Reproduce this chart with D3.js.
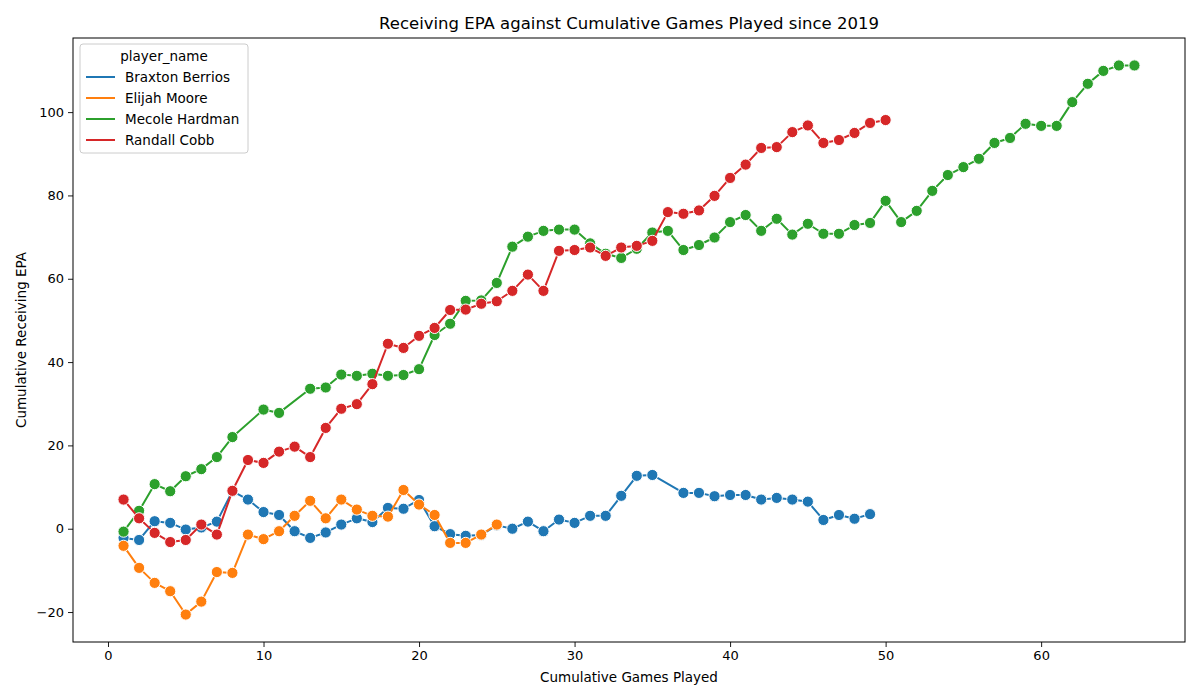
<!DOCTYPE html>
<html>
<head>
<meta charset="utf-8">
<script src="https://cdn.jsdelivr.net/npm/d3@7"></script>
<style>
  body { margin: 0; background: #fff; }
  text { font-family: "DejaVu Sans", sans-serif; fill: #000; }
</style>
</head>
<body>
<div id="chart"></div>
<script>
let width = 1200;
let height = 700;
let margin = ({top: 38, right: 15, bottom: 58, left: 73});

// data
let players = ["Braxton Berrios", "Elijah Moore", "Mecole Hardman", "Randall Cobb"];
let colors = ["#1f77b4", "#ff7f0e", "#2ca02c", "#d62728"];

let berriosGames = [1,2,3,4,5,6,7,8,9,10,11,12,13,14,15,16,17,18,19,20,21,22,23,24,25,26,27,28,29,30,31,32,33,34,35,37,38,39,40,41,42,43,44,45,46,47,48,49];
let berriosEpa = [-2.2,-2.7,1.8,1.4,-0.2,0.3,1.7,9.0,7.0,4.0,3.3,-0.6,-2.2,-0.9,1.0,2.5,1.6,5.0,4.8,6.9,0.6,-1.3,-1.7,-1.5,0.8,0.0,1.7,-0.6,2.2,1.4,3.1,3.1,7.9,12.7,12.9,8.6,8.6,7.8,8.1,8.1,7.0,7.4,7.0,6.5,2.1,3.3,2.4,3.5];

let mooreGames = [1,2,3,4,5,6,7,8,9,10,11,12,13,14,15,16,17,18,19,20,21,22,23,24,25];
let mooreEpa = [-4.1,-9.4,-13.0,-15.0,-20.6,-17.5,-10.4,-10.6,-1.4,-2.5,-0.6,3.1,6.7,2.5,7.0,4.6,3.1,2.9,9.3,5.8,3.3,-3.4,-3.4,-1.4,1.0];

let hardmanGames = [1,2,3,4,5,6,7,8,10,11,13,14,15,16,17,18,19,20,21,22,23,24,25,26,27,28,29,30,31,32,33,34,35,36,37,38,39,40,41,42,43,44,45,46,47,48,49,50,51,52,53,54,55,56,57,58,59,60,61,62,63,64,65,66];
let hardmanEpa = [-0.7,4.3,10.7,9.0,12.6,14.3,17.2,22.0,28.6,27.8,33.6,33.9,37.0,36.7,37.2,36.7,36.9,38.3,46.5,49.2,54.7,54.8,59.0,67.7,70.1,71.5,71.8,71.8,68.5,66.0,65.0,67.2,71.1,71.5,66.9,68.1,69.9,73.6,75.3,71.5,74.4,70.6,73.2,70.8,70.8,72.9,73.4,78.7,73.6,76.3,81.1,84.9,86.8,88.8,92.6,93.8,97.2,96.7,96.7,102.4,106.8,109.9,111.2,111.2];

let cobbGames = [1,2,3,4,5,6,7,8,9,10,11,12,13,14,15,16,17,18,19,20,21,22,23,24,25,26,27,28,29,30,31,32,33,34,35,36,37,38,39,40,41,42,43,44,45,46,47,48,49,50];
let cobbEpa = [7.0,2.5,-1.0,-3.2,-2.7,1.0,-1.4,9.1,16.5,15.8,18.5,19.7,17.2,24.2,28.8,29.9,34.7,44.4,43.4,46.3,48.2,52.5,52.6,54.0,54.6,57.1,61.0,57.1,66.7,66.9,67.5,65.5,67.5,67.9,69.1,76.0,75.6,76.4,79.9,84.2,87.4,91.4,91.6,95.2,96.8,92.6,93.3,95.0,97.4,98.1];

let xTicks = [0, 10, 20, 30, 40, 50, 60];
let yTicks = [-20, 0, 20, 40, 60, 80, 100];

let series = [
    {name: players[0], color: colors[0], values: berriosGames.map((g, i) => ({g, v: berriosEpa[i]}))},
    {name: players[1], color: colors[1], values: mooreGames.map((g, i) => ({g, v: mooreEpa[i]}))},
    {name: players[2], color: colors[2], values: hardmanGames.map((g, i) => ({g, v: hardmanEpa[i]}))},
    {name: players[3], color: colors[3], values: cobbGames.map((g, i) => ({g, v: cobbEpa[i]}))}
];

let all = series.flatMap(s => s.values);
let [gMin, gMax] = d3.extent(all, d => d.g);
let [vMin, vMax] = d3.extent(all, d => d.v);
let gPad = (gMax - gMin) * 0.05, vPad = (vMax - vMin) * 0.05;

let x = d3.scaleLinear()
    .domain([gMin - gPad, gMax + gPad])
    .range([margin.left, width - margin.right]);
let y = d3.scaleLinear()
    .domain([vMin - vPad, vMax + vPad])
    .range([height - margin.bottom, margin.top]);

let svg = d3.select("#chart")
    .append("svg")
    .attr("width", width)
    .attr("height", height);

// axes
let xAxis = g => g
    .attr("transform", `translate(0,${height - margin.bottom})`)
    .call(d3.axisBottom(x).tickValues(xTicks).tickSize(5).tickPadding(4).tickSizeOuter(0))
    .call(g => g.select(".domain").remove());
let yAxis = g => g
    .attr("transform", `translate(${margin.left},0)`)
    .call(d3.axisLeft(y).tickValues(yTicks).tickSize(5).tickPadding(4).tickFormat(d => d < 0 ? "\u2212" + Math.abs(d) : d))
    .call(g => g.select(".domain").remove());

svg.append("g").call(xAxis)
    .call(g => g.selectAll("text").attr("font-size", 13).attr("font-family", "DejaVu Sans"));
svg.append("g").call(yAxis)
    .call(g => g.selectAll("text").attr("font-size", 13).attr("font-family", "DejaVu Sans"));
svg.selectAll(".tick line").attr("stroke", "#000").attr("stroke-width", 0.9);

let line = d3.line()
    .x(d => x(d.g))
    .y(d => y(d.v));

let plot = svg.append("g");
series.forEach(s => {
    let grp = plot.append("g");
    grp.append("path")
        .datum(s.values)
        .attr("fill", "none")
        .attr("stroke", s.color)
        .attr("stroke-width", 2)
        .attr("stroke-linejoin", "round")
        .attr("d", line);
    grp.selectAll("circle")
        .data(s.values)
        .join("circle")
        .attr("cx", d => x(d.g))
        .attr("cy", d => y(d.v))
        .attr("r", 5.6)
        .attr("fill", s.color)
        .attr("stroke", "#fff")
        .attr("stroke-width", 1);
});

// frame
svg.append("rect")
    .attr("x", margin.left)
    .attr("y", margin.top)
    .attr("width", width - margin.left - margin.right)
    .attr("height", height - margin.top - margin.bottom)
    .attr("fill", "none")
    .attr("stroke", "#000")
    .attr("stroke-width", 1);

// titles
svg.append("text")
    .attr("x", (margin.left + width - margin.right) / 2)
    .attr("y", 29)
    .attr("text-anchor", "middle")
    .attr("font-size", 16.5)
    .text("Receiving EPA against Cumulative Games Played since 2019");
svg.append("text")
    .attr("x", (margin.left + width - margin.right) / 2)
    .attr("y", 682)
    .attr("text-anchor", "middle")
    .attr("font-size", 13.5)
    .text("Cumulative Games Played");
svg.append("text")
    .attr("transform", `translate(26,${(margin.top + height - margin.bottom) / 2}) rotate(-90)`)
    .attr("text-anchor", "middle")
    .attr("font-size", 13.5)
    .text("Cumulative Receiving EPA");

// legend
let legend = svg.append("g").attr("transform", "translate(80,44)");
legend.append("rect")
    .attr("width", 168)
    .attr("height", 109)
    .attr("rx", 3)
    .attr("fill", "#fff")
    .attr("fill-opacity", 0.8)
    .attr("stroke", "#ccc");
legend.append("text")
    .attr("x", 84)
    .attr("y", 17)
    .attr("text-anchor", "middle")
    .attr("font-size", 13.5)
    .text("player_name");
let items = legend.selectAll("g.item")
    .data(series)
    .join("g")
    .attr("class", "item")
    .attr("transform", (d, i) => `translate(0,${33 + i * 21})`);
items.append("line")
    .attr("x1", 6).attr("x2", 35)
    .attr("stroke", d => d.color)
    .attr("stroke-width", 2);
items.append("text")
    .attr("x", 45)
    .attr("dy", "0.35em")
    .attr("font-size", 13.5)
    .text(d => d.name);
</script>
</body>
</html>
